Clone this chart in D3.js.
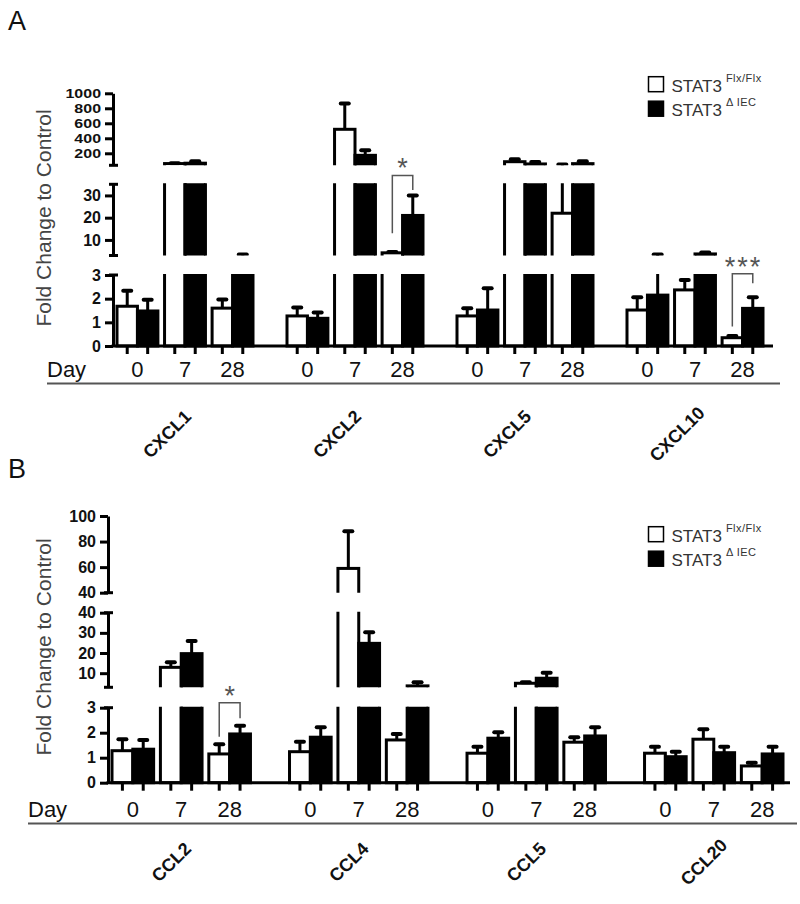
<!DOCTYPE html>
<html><head><meta charset="utf-8">
<script src="https://cdn.jsdelivr.net/npm/d3@7"></script>
<style>
body{margin:0;background:#fff;}
text{font-family:"Liberation Sans", Arial, sans-serif;}
</style></head><body>
<svg id="c" width="800" height="904"></svg>
<script>
// ---------- data ----------
const days = ["0", "7", "28"];
const seriesNames = ["flx", "iec"];

const genesA = ["CXCL1", "CXCL2", "CXCL5", "CXCL10"];
const flxMeanA  = [[1.68, 63, 1.6], [1.27, 520, 4.2], [1.27, 88, 22], [1.52, 2.37, 0.35]];
const flxUpperA = [[2.33, 68, 1.97], [1.63, 865, 4.6], [1.59, 120, 50], [2.06, 2.79, 0.42]];
const iecMeanA  = [[1.48, 68, 3.0], [1.17, 173, 21], [1.52, 58, 62], [2.15, 3.7, 1.59]];
const iecUpperA = [[1.95, 95, 3.45], [1.42, 240, 30], [2.44, 85, 95], [3.5, 4.3, 2.06]];
const segDomainsA = {bottom: [0, 3], middle: [3, 35], top: [40, 1000]};
const ticksA = {bottom: [0, 1, 2, 3], middle: [10, 20, 30], top: [200, 400, 600, 800, 1000]};
const sigA = [
  {gene: "CXCL2", day: "28", label: "*", seg: "middle", left: 13, right: 32.4, top: 39},
  {gene: "CXCL10", day: "28", label: "***", seg: "bottom", left: 0.82, right: 2.65, top: 3.05}
];

const genesB = ["CCL2", "CCL4", "CCL5", "CCL20"];
const flxMeanB  = [[1.28, 12.9, 1.15], [1.24, 59, 1.71], [1.18, 5.0, 1.62], [1.18, 1.74, 0.67]];
const flxUpperB = [[1.74, 15.4, 1.54], [1.64, 88, 1.95], [1.44, 5.5, 1.82], [1.44, 2.14, 0.8]];
const iecMeanB  = [[1.34, 19.7, 1.95], [1.82, 24.8, 3.7], [1.78, 7.5, 1.87], [1.04, 1.2, 1.15]];
const iecUpperB = [[1.71, 26, 2.28], [2.22, 30.3, 5.5], [2.02, 10.2, 2.22], [1.24, 1.44, 1.44]];
const segDomainsB = {bottom: [0, 3], middle: [3, 40], top: [40, 100]};
const ticksB = {bottom: [0, 1, 2, 3], middle: [10, 20, 30, 40], top: [40, 60, 80, 100]};
const sigB = [
  {gene: "CCL2", day: "28", label: "*", seg: "bottom", left: 1.84, right: 2.58, top: 3.2}
];

const yTitle = "Fold Change to Control";
const legendLabels = [{base: "STAT3", sup: "Flx/Flx"}, {base: "STAT3", sup: "\u0394 IEC"}];

// ---------- layout ----------
const svg = d3.select("#c");

function drawPanel(cfg) {
  const g = svg.append("g");
  const xg = d3.scaleBand().domain(cfg.genes).range(cfg.xRange).paddingInner(cfg.genePad).paddingOuter(0);
  const xd = d3.scaleBand().domain(days).range([0, xg.bandwidth()]).paddingInner(0.14);
  const xs = d3.scaleBand().domain(seriesNames).range([0, xd.bandwidth()]);

  const recs = [];
  cfg.genes.forEach((gene, gi) => days.forEach((day, di) => {
    recs.push({gene, day, s: "flx", mean: cfg.flxMean[gi][di], upper: cfg.flxUpper[gi][di]});
    recs.push({gene, day, s: "iec", mean: cfg.iecMean[gi][di], upper: cfg.iecUpper[gi][di]});
  }));
  const bx = r => xg(r.gene) + xd(r.day) + xs(r.s);
  const bw = xs.bandwidth();

  const segs = ["bottom", "middle", "top"].map(k => ({
    key: k,
    y: d3.scaleLinear().domain(cfg.segDomains[k]).range(cfg.segRanges[k])
  }));
  const segMap = {};
  segs.forEach(s => segMap[s.key] = s);
  const y0 = segMap.bottom.y(0);

  segs.forEach(seg => {
    const [lo, hi] = seg.y.domain();
    const yb = seg.y(lo), yt = seg.y(hi);
    const cid = `clip-${cfg.id}-${seg.key}`;
    g.append("clipPath").attr("id", cid).append("rect")
      .attr("x", 0).attr("width", 800)
      .attr("y", yt - 1).attr("height", yb - yt + 1 + (seg.key === "bottom" ? 3 : 0));
    const sg = g.append("g").attr("clip-path", `url(#${cid})`);
    const bottomY = seg.key === "bottom" ? y0 : yb + 10;
    sg.selectAll("rect.bar").data(recs.filter(r => r.mean > lo || seg.key === "bottom")).join("rect")
      .attr("class", "bar")
      .attr("x", bx).attr("width", bw)
      .attr("y", r => seg.y(r.mean))
      .attr("height", r => Math.max(0, bottomY - seg.y(r.mean)))
      .attr("fill", r => r.s === "flx" ? "#fff" : "#000")
      .attr("stroke", "#000").attr("stroke-width", 3);
    const eb = recs.filter(r => r.upper > lo);
    sg.selectAll("line.err").data(eb).join("line")
      .attr("class", "err")
      .attr("x1", r => bx(r) + bw / 2).attr("x2", r => bx(r) + bw / 2)
      .attr("y1", r => seg.y(r.mean)).attr("y2", r => seg.y(r.upper))
      .attr("stroke", "#000").attr("stroke-width", 3);
    sg.selectAll("line.cap").data(eb).join("line")
      .attr("class", "cap")
      .attr("x1", r => bx(r) + bw / 2 - 4).attr("x2", r => bx(r) + bw / 2 + 4)
      .attr("y1", r => seg.y(r.upper)).attr("y2", r => seg.y(r.upper))
      .attr("stroke", "#000").attr("stroke-width", 4).attr("stroke-linecap", "round");

    // y axis segment
    const ax = g.append("g").attr("transform", `translate(${cfg.axisX},0)`)
      .call(d3.axisLeft(seg.y).tickValues(cfg.ticks[seg.key]).tickSize(8).tickSizeOuter(0)
        .tickPadding(4).tickFormat(d3.format("d")));
    ax.select(".domain").attr("stroke", "#000").attr("stroke-width", 3);
    ax.selectAll(".tick line").attr("stroke", "#000").attr("stroke-width", 3);
    const tt = ax.selectAll(".tick text").attr("font-size", 16).attr("font-weight", "bold")
      .attr("font-family", "'Liberation Sans', Arial, sans-serif").attr("fill", "#111");
    const sq = cfg.squash[seg.key];
    if (sq < 1) tt.attr("transform", `scale(1,${sq})`);
    // break caps
    const ends = [];
    if (seg.key !== "bottom") ends.push(yb);
    if (seg.key !== "top") ends.push(yt);
    g.selectAll(null).data(ends).join("line")
      .attr("x1", cfg.axisX - 4).attr("x2", cfg.axisX + 5)
      .attr("y1", d => d).attr("y2", d => d)
      .attr("stroke", "#000").attr("stroke-width", 3);
  });

  // x axis
  g.append("line").attr("x1", cfg.axisX - 1.5).attr("x2", cfg.axisEnd)
    .attr("y1", y0).attr("y2", y0).attr("stroke", "#000").attr("stroke-width", 3);
  g.selectAll("line.xt").data(recs).join("line").attr("class", "xt")
    .attr("x1", r => bx(r) + bw / 2).attr("x2", r => bx(r) + bw / 2)
    .attr("y1", y0).attr("y2", y0 + 8)
    .attr("stroke", "#000").attr("stroke-width", 3);

  // day labels
  const pairs = [];
  cfg.genes.forEach(gene => days.forEach(day => pairs.push({gene, day})));
  g.selectAll("text.day").data(pairs).join("text").attr("class", "day")
    .attr("x", p => xg(p.gene) + xd(p.day) + xd.bandwidth() / 2)
    .attr("y", cfg.dayBaseline).attr("text-anchor", "middle")
    .attr("font-size", 22).attr("fill", "#111").text(p => p.day);
  g.append("text").attr("x", cfg.dayX).attr("y", cfg.dayBaseline)
    .attr("font-size", 22).attr("fill", "#111").text("Day");
  g.append("line").attr("x1", cfg.dayX).attr("x2", cfg.underlineEnd)
    .attr("y1", cfg.underlineY).attr("y2", cfg.underlineY)
    .attr("stroke", "#555").attr("stroke-width", 2);

  // gene labels
  g.selectAll("text.gene").data(cfg.genes).join("text").attr("class", "gene")
    .attr("transform", d => `translate(${xg(d) + xg.bandwidth() / 2 + cfg.geneDx},${cfg.geneY}) rotate(-45)`)
    .attr("text-anchor", "middle").attr("dy", "0.35em")
    .attr("font-size", 18).attr("font-weight", "bold").attr("fill", "#111")
    .text(d => d);

  // y title
  g.append("text").attr("transform", `translate(${cfg.titleX},${cfg.titleY}) rotate(-90)`)
    .attr("text-anchor", "middle").attr("font-size", 21).attr("fill", "#444").text(yTitle);

  // significance
  cfg.sig.forEach(s => {
    const y = segMap[s.seg].y;
    const xl = xg(s.gene) + xd(s.day) + xs("flx") + bw / 2;
    const xr = xg(s.gene) + xd(s.day) + xs("iec") + bw / 2;
    g.append("path")
      .attr("d", `M${xl},${y(s.left)}V${y(s.top)}H${xr}V${y(s.right)}`)
      .attr("fill", "none").attr("stroke", "#555").attr("stroke-width", 1.5);
    g.append("text").attr("x", (xl + xr) / 2 + (s.label.length > 1 ? 1 : 0)).attr("y", y(s.top) + 2)
      .attr("text-anchor", "middle").attr("font-size", 27).attr("fill", "#555")
      .attr("letter-spacing", s.label.length > 1 ? 2 : 0)
      .text(s.label);
  });

  // legend
  const lg = g.append("g").attr("transform", `translate(648.5,${cfg.legendY})`);
  legendLabels.forEach((l, i) => {
    lg.append("rect").attr("x", 0).attr("y", i * 24.5).attr("width", 15).attr("height", 15)
      .attr("fill", i === 0 ? "#fff" : "#000").attr("stroke", "#000").attr("stroke-width", 1.5);
    const t = lg.append("text").attr("x", 23).attr("y", i * 24.5 + 15)
      .attr("font-size", 17).attr("fill", "#333");
    t.append("tspan").text(l.base);
    t.append("tspan").attr("dx", 4).attr("dy", -10).attr("font-size", 11)
      .attr("letter-spacing", 0.5).text(l.sup);
  });

  // panel letter
  svg.append("text").attr("x", 8).attr("y", cfg.letterY).attr("font-size", 27)
    .attr("fill", "#111").text(cfg.letter);
}

drawPanel({
  id: "A", letter: "A", letterY: 30,
  genes: genesA, flxMean: flxMeanA, flxUpper: flxUpperA, iecMean: iecMeanA, iecUpper: iecUpperA,
  segDomains: segDomainsA, ticks: ticksA, sig: sigA,
  segRanges: {bottom: [346, 275], middle: [255.5, 184.3], top: [165.3, 93.3]},
  squash: {bottom: 1, middle: 1, top: 0.78},
  axisX: 113, xRange: [117, 763], genePad: 0.2, axisEnd: 773,
  dayBaseline: 377, dayX: 47, underlineY: 383.5, underlineEnd: 780,
  geneY: 434, geneDx: -18, titleX: 51, titleY: 218, legendY: 76.7
});
drawPanel({
  id: "B", letter: "B", letterY: 478,
  genes: genesB, flxMean: flxMeanB, flxUpper: flxUpperB, iecMean: iecMeanB, iecUpper: iecUpperB,
  segDomains: segDomainsB, ticks: ticksB, sig: sigB,
  segRanges: {bottom: [782.7, 707.7], middle: [687.3, 612.7], top: [592.7, 516]},
  squash: {bottom: 1, middle: 1, top: 1},
  axisX: 108, xRange: [112, 783], genePad: 0.22, axisEnd: 790,
  dayBaseline: 817, dayX: 28, underlineY: 823.5, underlineEnd: 797,
  geneY: 862, geneDx: -10, titleX: 51, titleY: 647, legendY: 526.7
});
</script>
</body></html>
